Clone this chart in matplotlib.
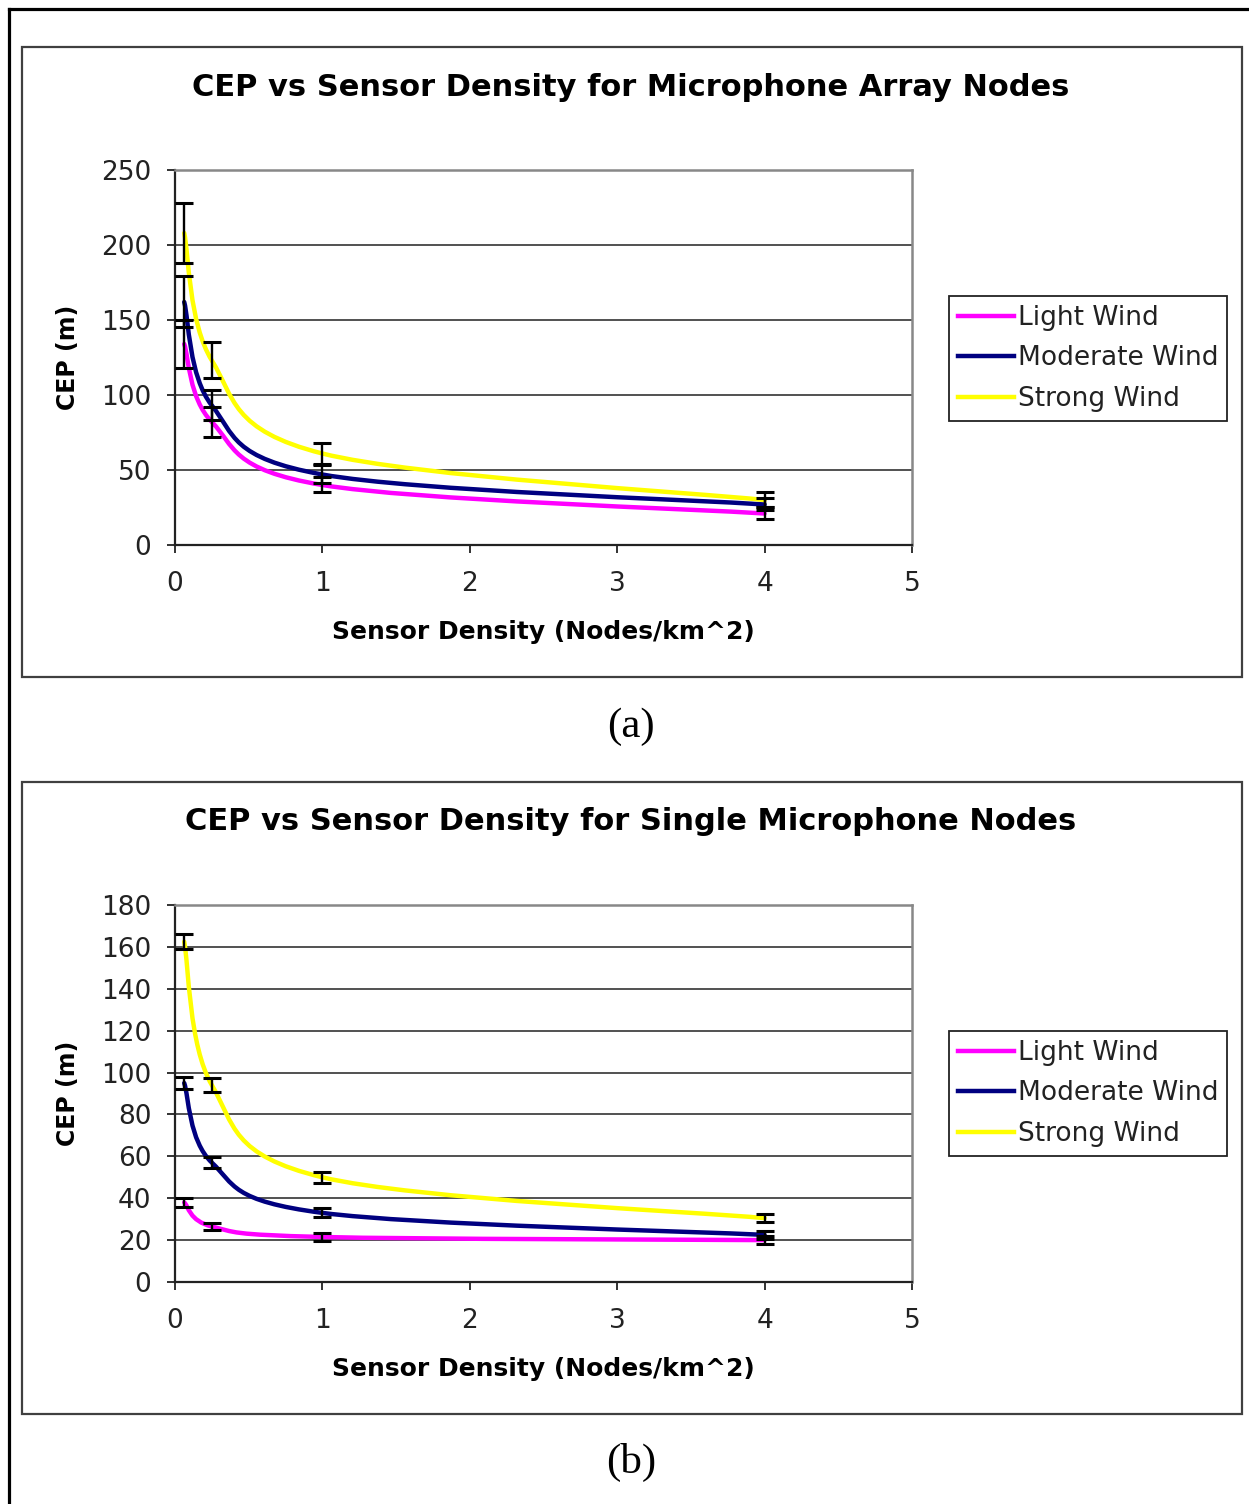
import matplotlib
matplotlib.use('Agg')
import matplotlib.pyplot as plt
from matplotlib.path import Path
from matplotlib.patches import PathPatch, Rectangle
from matplotlib.lines import Line2D

# Données --------------------------------------------------------------
density = [0.0625, 0.25, 1, 4]
series_names = ['Light Wind', 'Moderate Wind', 'Strong Wind']
colors = ['#FF00FF', '#000080', '#FFFF00']

# (a) noeuds à réseau de microphones
light_a = [134, 82, 40, 21]
light_a_err = [16, 10, 5, 4]
moderate_a = [162, 93, 47, 27]
moderate_a_err = [17, 10, 6, 4]
strong_a = [208, 123, 61, 30]
strong_a_err = [20, 12, 7, 5]

# (b) noeuds à microphone unique
light_b = [38, 26.5, 21.5, 20]
light_b_err = [2, 1.8, 2, 2]
moderate_b = [95, 57, 33, 22.5]
moderate_b_err = [3, 2.5, 2.2, 1.8]
strong_b = [162.5, 94, 50, 30.5]
strong_b_err = [3.5, 3.5, 2.5, 2]

title_a = 'CEP vs Sensor Density for Microphone Array Nodes'
title_b = 'CEP vs Sensor Density for Single Microphone Nodes'
xlabel = 'Sensor Density (Nodes/km^2)'
ylabel = 'CEP (m)'
xticks = [0, 1, 2, 3, 4, 5]
yticks_a = [0, 50, 100, 150, 200, 250]
yticks_b = [0, 20, 40, 60, 80, 100, 120, 140, 160, 180]
#-----------------------------------------------------------------------

W, H = 1249, 1504
fig = plt.figure(figsize=(W / 100, H / 100), dpi=100)
fig.patch.set_facecolor('white')

tick_font = 'DejaVu Sans'
bold_font = 'DejaVu Sans'


def smooth_path(xs, ys):
    # courbe lissée façon Excel (Catmull-Rom -> Bézier)
    pts = list(zip(xs, ys))
    n = len(pts)
    verts = [pts[0]]
    codes = [Path.MOVETO]
    for i in range(n - 1):
        p0 = pts[i - 1] if i > 0 else pts[i]
        p1 = pts[i]
        p2 = pts[i + 1]
        p3 = pts[i + 2] if i + 2 < n else pts[i + 1]
        c1 = (p1[0] + (p2[0] - p0[0]) / 6, p1[1] + (p2[1] - p0[1]) / 6)
        c2 = (p2[0] - (p3[0] - p1[0]) / 6, p2[1] - (p3[1] - p1[1]) / 6)
        verts += [c1, c2, p2]
        codes += [Path.CURVE4, Path.CURVE4, Path.CURVE4]
    return Path(verts, codes)


def px(x):
    return x / W


def py(y):
    return 1 - y / H


# bordure extérieure (haut et gauche)
fig.add_artist(Line2D([px(9), 1], [py(9), py(9)], color='black', lw=2.3))
fig.add_artist(Line2D([px(9), px(9)], [py(9), 0], color='black', lw=2.3))


def panel(top, bottom, title, ymax, yticks, data, errs, caption, cap_y):
    # cadre du graphique
    fig.add_artist(Rectangle((px(22), py(bottom)), px(1242) - px(22), py(top) - py(bottom),
                             fill=False, edgecolor='#404040', lw=1.6))
    ax_top, ax_bot = top + 123, bottom - 132
    ax = fig.add_axes([px(175), py(ax_bot), px(912) - px(175), py(ax_top) - py(ax_bot)])
    ax.set_xlim(0, 5)
    ax.set_ylim(0, ymax)
    ax.set_xticks(xticks)
    ax.set_yticks(yticks)
    ax.set_xticklabels([str(t) for t in xticks], family=tick_font, fontsize=19, color='#222222')
    ax.set_yticklabels([str(t) for t in yticks], family=tick_font, fontsize=19, color='#222222')
    ax.tick_params(axis='y', direction='out', length=6, width=1.3, pad=11, colors='#222222')
    ax.tick_params(axis='x', direction='out', length=6, width=1.3, pad=13, colors='#222222')
    ax.yaxis.grid(True, color='#222222', lw=1.1)
    ax.set_axisbelow(True)
    for s in ['left', 'bottom']:
        ax.spines[s].set_color('#222222')
        ax.spines[s].set_linewidth(1.6)
    for s in ['top', 'right']:
        ax.spines[s].set_color('#888888')
        ax.spines[s].set_linewidth(1.8)

    handles = []
    for vals, err, c, name in zip(data, errs, colors, series_names):
        ax.add_patch(PathPatch(smooth_path(density, vals), facecolor='none',
                               edgecolor=c, lw=3.2, zorder=3, capstyle='round'))
        ax.errorbar(density, vals, yerr=err, fmt='none', ecolor='black',
                    elinewidth=1.7, capsize=6.5, capthick=2.2, zorder=4)
        handles.append(Line2D([], [], color=c, lw=3.2, label=name))

    ax.set_ylabel(ylabel, family=bold_font, fontweight='bold', fontsize=17)
    ax.yaxis.set_label_coords((68 - 175) / 737, 0.5)
    ax.yaxis.label.set_va('center')
    ax.set_xlabel(xlabel, family=bold_font, fontweight='bold', fontsize=18)
    ax.xaxis.set_label_coords(0.5, -0.232)
    ax.xaxis.label.set_va('center')

    fig.text(px(631), py(top + 40), title, family=bold_font, fontweight='bold',
             fontsize=22, ha='center', va='center')

    leg = fig.legend(handles=handles, loc='upper left', bbox_to_anchor=(px(949), py(top + 249)),
                     bbox_transform=fig.transFigure, borderaxespad=0, frameon=True,
                     fancybox=False, edgecolor='#222222', framealpha=1,
                     prop={'family': tick_font, 'size': 19}, handlelength=2.1,
                     handletextpad=0.15, labelspacing=0.54, borderpad=0.35)
    leg.get_frame().set_linewidth(1.3)
    for t in leg.get_texts():
        t.set_color('#222222')

    fig.text(px(631), py(cap_y), caption, family='Liberation Serif', fontsize=31,
             ha='center', va='center')
    return ax


panel(47, 677, title_a, 250, yticks_a,
      [light_a, moderate_a, strong_a], [light_a_err, moderate_a_err, strong_a_err], '(a)', 727)
panel(782, 1414, title_b, 180, yticks_b,
      [light_b, moderate_b, strong_b], [light_b_err, moderate_b_err, strong_b_err], '(b)', 1462)

fig.savefig('out.png', dpi=100)
